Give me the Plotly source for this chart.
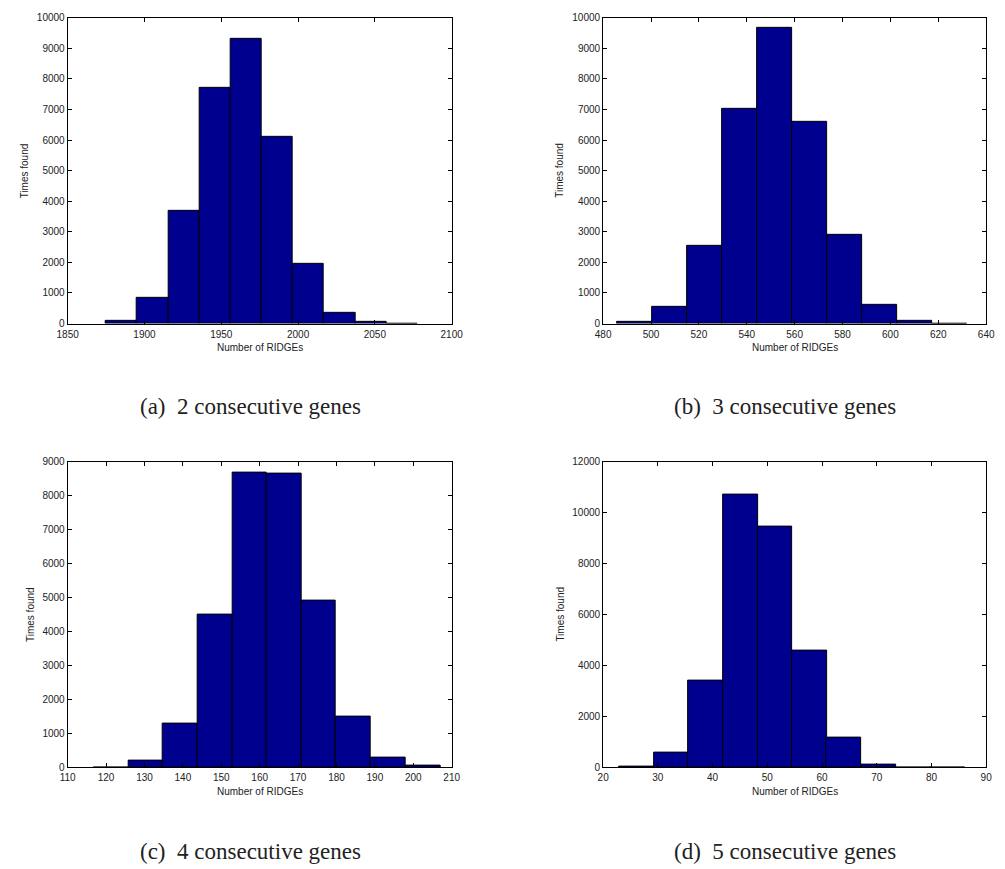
import plotly.graph_objects as go

# ---- data ----
a_centers = [1885.0, 1905.3, 1925.6, 1945.9, 1966.2, 1986.5, 2006.8, 2027.1, 2047.4, 2067.7]
a_counts = [100, 830, 3685, 7716, 9310, 6121, 1940, 345, 43, 4]
a_width = 20.3

b_centers = [493.0, 507.7, 522.3, 537.0, 551.6, 566.3, 580.9, 595.6, 610.2, 624.9]
b_counts = [54, 539, 2554, 7037, 9677, 6584, 2899, 614, 75, 3]
b_width = 14.65

c_centers = [121.3, 130.3, 139.3, 148.4, 157.4, 166.4, 175.4, 184.4, 193.4, 202.5]
c_counts = [5, 194, 1290, 4490, 8680, 8660, 4898, 1503, 291, 39]
c_width = 9.02

d_centers = [26.1, 32.4, 38.7, 45.1, 51.4, 57.7, 64.0, 70.4, 76.7, 83.0]
d_counts = [40, 569, 3414, 10694, 9453, 4578, 1177, 90, 5, 3]
d_width = 6.32

captions = ["(a)\u00a0 2 consecutive genes", "(b)\u00a0 3 consecutive genes",
            "(c)\u00a0 4 consecutive genes", "(d)\u00a0 5 consecutive genes"]
x_title = "Number of RIDGEs"
y_title = "Times found"

x_ranges = [[1850, 2100], [480, 640], [110, 210], [20, 90]]
x_dticks = [50, 20, 10, 10]
y_ranges = [[0, 10000], [0, 10000], [0, 9000], [0, 12000]]
y_dticks = [1000, 1000, 1000, 2000]

W, H = 1005, 869
BAR = "rgb(0,0,143)"

# pixel boxes: left, right, top, bottom
boxes = [(58, 451, 12, 322), (606, 998, 12, 322), (58, 451, 462, 772), (606, 998, 462, 772)]
ytitle_x = [14, 562, 20, 562]
caption_x = [245, 792, 245, 792]
caption_y = [406, 406, 857, 857]

fig = go.Figure()
panels = [(a_centers, a_counts, a_width), (b_centers, b_counts, b_width),
          (c_centers, c_counts, c_width), (d_centers, d_counts, d_width)]

tickfont = dict(family="Liberation Sans, Arial, sans-serif", size=10, color="#222222")
annotations = []
for i, (cx, cy, w) in enumerate(panels):
    n = "" if i == 0 else str(i + 1)
    fig.add_trace(go.Bar(x=cx, y=cy, width=[w] * len(cx), marker=dict(color=BAR, line=dict(color="black", width=1)),
                         xaxis="x" + n, yaxis="y" + n, showlegend=False, hoverinfo="x+y"))
    l, r, t, b = boxes[i]
    common = dict(showline=True, linecolor="black", linewidth=1, mirror="ticks", ticks="inside",
                  ticklen=4, tickcolor="black", tickwidth=1, showgrid=False, zeroline=False,
                  tickfont=tickfont, fixedrange=True, tickformat="d")
    fig.update_layout(**{
        "xaxis" + n: dict(domain=[l / W, r / W], range=x_ranges[i], dtick=x_dticks[i], tick0=0,
                          anchor="y" + n, ticklabelstandoff=1, **common),
        "yaxis" + n: dict(domain=[(H - b) / H, (H - t) / H], range=y_ranges[i], dtick=y_dticks[i], tick0=0,
                          anchor="x" + n, **common),
    })
    annotations.append(dict(text=x_title, x=(l + r) / 2 / W, y=(H - (b + 24)) / H, xref="paper", yref="paper",
                            showarrow=False, font=tickfont, xanchor="center", yanchor="middle"))
    annotations.append(dict(text=y_title, x=ytitle_x[i] / W, y=(H - (t + b) / 2) / H, xref="paper", yref="paper",
                            showarrow=False, font=tickfont, textangle=-90, xanchor="center", yanchor="middle"))
    annotations.append(dict(text=captions[i], x=caption_x[i] / W, y=(H - caption_y[i]) / H, xref="paper",
                            yref="paper", showarrow=False, xanchor="center", yanchor="middle",
                            font=dict(family="Liberation Serif, Times New Roman, serif", size=23, color="#222222")))

fig.update_layout(width=W, height=H, margin=dict(l=0, r=0, t=0, b=0), paper_bgcolor="white",
                  plot_bgcolor="white", bargap=0, annotations=annotations)

fig.write_html("out.html")
